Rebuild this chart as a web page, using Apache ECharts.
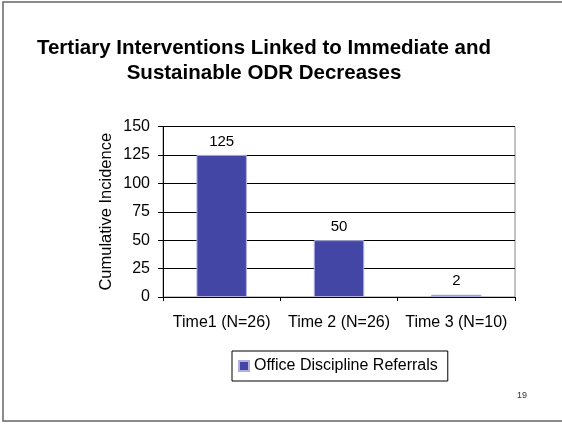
<!DOCTYPE html>
<html>
<head>
<meta charset="utf-8">
<script src="https://cdn.jsdelivr.net/npm/echarts@6/dist/echarts.min.js"></script>
<style>
  html, body { margin: 0; padding: 0; background: #fff; }
  #chart { width: 562px; height: 424px; }
</style>
</head>
<body>
<div id="chart"></div>
<script>
// data
var categories = ['Time1 (N=26)', 'Time 2 (N=26)', 'Time 3 (N=10)']
var referrals = [125, 50, 2]
var seriesName = 'Office Discipline Referrals'

var font = 'Arial, "Liberation Sans", sans-serif'
var barColor = '#4446a6'

var myChart = echarts.init(document.getElementById('chart'))
var option = {
  animation: false,
  title: {
    text: 'Tertiary Interventions Linked to Immediate and\nSustainable ODR Decreases',
    left: 259,
    top: 31,
    textAlign: 'center',
    textStyle: {
      fontFamily: font,
      fontSize: 20.5,
      fontWeight: 'bold',
      color: '#000',
      lineHeight: 25
    }
  },
  legend: {
    data: [seriesName],
    left: 232,
    top: 351,
    padding: [7, 10, 7, 6],
    borderColor: '#000',
    borderWidth: 1,
    itemWidth: 10,
    itemHeight: 10,
    icon: 'rect',
    textStyle: { fontFamily: font, fontSize: 16, color: '#000' }
  },
  grid: {
    left: 163,
    right: 47,
    top: 126.5,
    bottom: 127,
    show: true,
    borderColor: '#888',
    borderWidth: 1
  },
  xAxis: {
    type: 'category',
    data: categories,
    axisLine: { lineStyle: { color: '#000', width: 1 } },
    axisTick: { show: true, length: 4, lineStyle: { color: '#000' } },
    axisLabel: { interval: 0, fontFamily: font, fontSize: 16, color: '#000', margin: 18 }
  },
  yAxis: {
    type: 'value',
    min: 0,
    max: 150,
    interval: 25,
    name: 'Cumulative Incidence',
    nameLocation: 'middle',
    nameGap: 48,
    nameMoveOverlap: false,
    nameTextStyle: { fontFamily: font, fontSize: 16.5, color: '#000' },
    axisLine: { show: true, lineStyle: { color: '#000', width: 1 } },
    axisTick: { show: true, length: 5, lineStyle: { color: '#000' } },
    axisLabel: { fontFamily: font, fontSize: 16, color: '#000', margin: 13 },
    splitLine: { show: true, lineStyle: { color: '#000', width: 1 } }
  },
  series: [
    {
      name: seriesName,
      type: 'bar',
      data: referrals,
      barWidth: '43%',
      itemStyle: { color: barColor, borderColor: '#b0b0e0', borderWidth: 1 },
      label: {
        show: true,
        position: 'top',
        distance: 6,
        fontFamily: font,
        fontSize: 15,
        color: '#000'
      }
    }
  ],
  graphic: [
    {
      type: 'rect',
      shape: { x: 3, y: 2, width: 620, height: 419 },
      style: { fill: 'none', stroke: '#666', lineWidth: 1.5 },
      silent: true
    },
    {
      type: 'text',
      left: 517,
      top: 391,
      style: { text: '19', fontFamily: font, fontSize: 9, fill: '#333' }
    }
  ]
}
myChart.setOption(option)
</script>
</body>
</html>
